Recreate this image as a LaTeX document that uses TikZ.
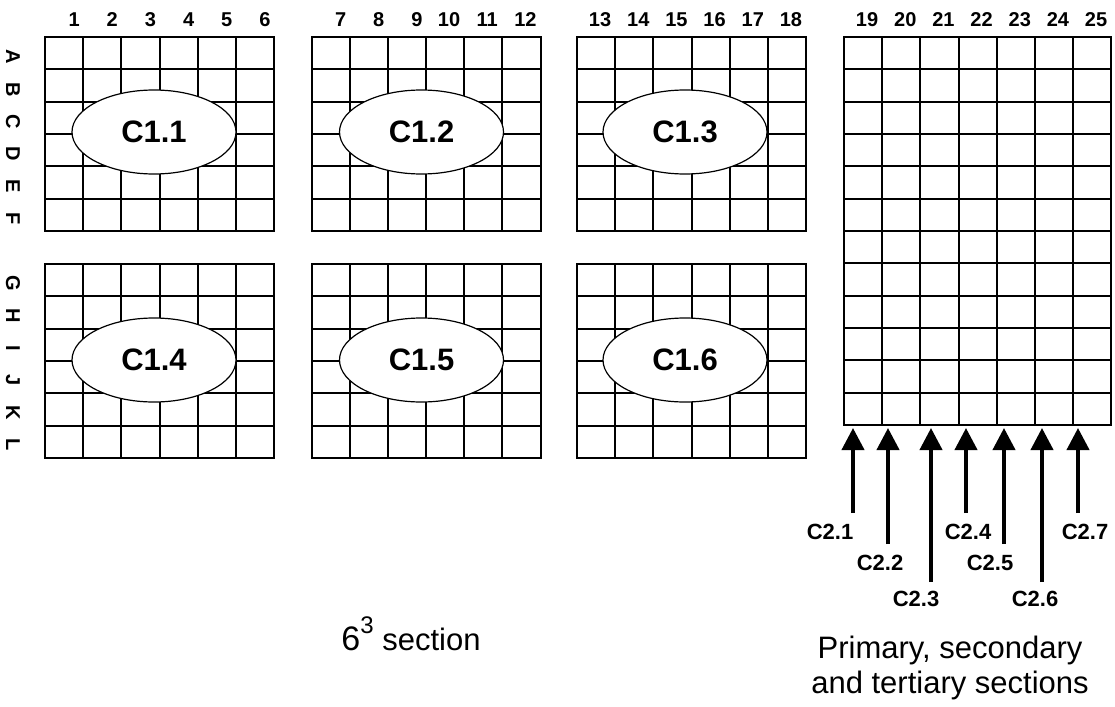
\documentclass[tikz,border=0pt]{standalone}
\usepackage{fontspec}
\setmainfont{Liberation Sans}
\usetikzlibrary{shapes.geometric,arrows.meta}

\begin{document}
\begin{tikzpicture}[x=1pt,y=-1pt,
  cell/.style={line width=2pt},
  collab/.style={font=\bfseries\fontsize{20}{20}\selectfont,anchor=base,inner sep=0pt},
  feedlab/.style={font=\bfseries\fontsize{22}{22}\selectfont,anchor=base,inner sep=0pt},
  rowlab/.style={font=\bfseries\fontsize{20}{20}\selectfont,rotate=-90,inner sep=0pt},
  core/.style={ellipse,draw,fill=white,line width=1.2pt,minimum width=164pt,
    minimum height=84pt,inner sep=0pt,font=\bfseries\fontsize{31}{31}\selectfont},
  feed/.style={line width=4pt,-{Triangle[length=22pt,width=22pt]}},
  caption/.style={font=\fontsize{31}{35}\selectfont,align=center,inner sep=0pt}]

\useasboundingbox (0,0) rectangle (1115,706);

\newcommand{\cellgrid}[3] % [cols][rows][first column number, 0 = none]
{
 \def\cw{38.17}
 \def\rh{32.33}
 \foreach \i in {1,...,#1}
  \draw[cell] ({(\i-1)*\cw},0) -- ({(\i-1)*\cw},{#2*\rh});
 \foreach \j in {1,...,#2}
  \draw[cell] (0,{(\j-1)*\rh}) -- ({#1*\cw},{(\j-1)*\rh});
 \draw[cell] (0,0) rectangle ({#1*\cw},{#2*\rh});
 \ifnum#3>0
  \foreach \i in {1,...,#1} {
   \pgfmathtruncatemacro{\n}{#3+\i-1}
   \pgfmathsetmacro{\off}{\n<10 ? 10 : 4}
   \node[collab] (c\n) at ({(\i-0.5)*\cw+\off},-10) {\n};
  }
 \fi
}

\begin{scope}[shift={(45,37)}] %C1.1
 \cellgrid{6}{6}{1}
 \node[core] (C11) at (109,95) {C1.1};
\end{scope}

\begin{scope}[shift={(311.5,37)}] %C1.2
 \cellgrid{6}{6}{7}
 \node[core] (C12) at (110,95) {C1.2};
\end{scope}

\begin{scope}[shift={(577,37)}] %C1.3
 \cellgrid{6}{6}{13}
 \node[core] (C13) at (108,95) {C1.3};
\end{scope}

\begin{scope}[shift={(45,264)}] %C1.4
 \cellgrid{6}{6}{0}
 \node[core] (C14) at (109,96) {C1.4};
\end{scope}

\begin{scope}[shift={(311.5,264)}] %C1.5
 \cellgrid{6}{6}{0}
 \node[core] (C15) at (110,96) {C1.5};
\end{scope}

\begin{scope}[shift={(577,264)}] %C1.6
 \cellgrid{6}{6}{0}
 \node[core] (C16) at (108,96) {C1.6};
\end{scope}

\begin{scope}[shift={(844,37)}] %C2
 \cellgrid{7}{12}{19}
\end{scope}

% row letters
\foreach \r [count=\k] in {A,B,C,D,E,F}
 \node[rowlab] (r\r) at (13,{37+(\k-0.5)*32.33+4}) {\r};
\foreach \r [count=\k] in {G,H,I,J,K,L}
 \node[rowlab] (r\r) at (13,{264+(\k-0.5)*32.33+3}) {\r};

% feeds into the right section
\foreach \n/\x/\y in {1/853/513,2/888/544,3/931/582,4/966/513,5/1004/544,6/1042/582,7/1078/513} {
 \coordinate (b\n) at (\x,\y);
 \coordinate (t\n) at (\x,428);
 \draw[feed] (b\n) -- (t\n);
}
\node[feedlab] (l1) at (830,539) {C2.1};
\node[feedlab] (l2) at (880,570) {C2.2};
\node[feedlab] (l3) at (916,606) {C2.3};
\node[feedlab] (l4) at (968,539) {C2.4};
\node[feedlab] (l5) at (990,570) {C2.5};
\node[feedlab] (l6) at (1035,606) {C2.6};
\node[feedlab] (l7) at (1085,539) {C2.7};

% captions
\node[caption,anchor=base] (cube) at (411,650)
 {{\fontsize{34}{34}\selectfont 6}\raisebox{17pt}{\fontsize{24}{24}\selectfont 3} section};
\node[caption,anchor=base] (rest) at (950,693) {Primary, secondary\\and tertiary sections};

\end{tikzpicture}
\end{document}
